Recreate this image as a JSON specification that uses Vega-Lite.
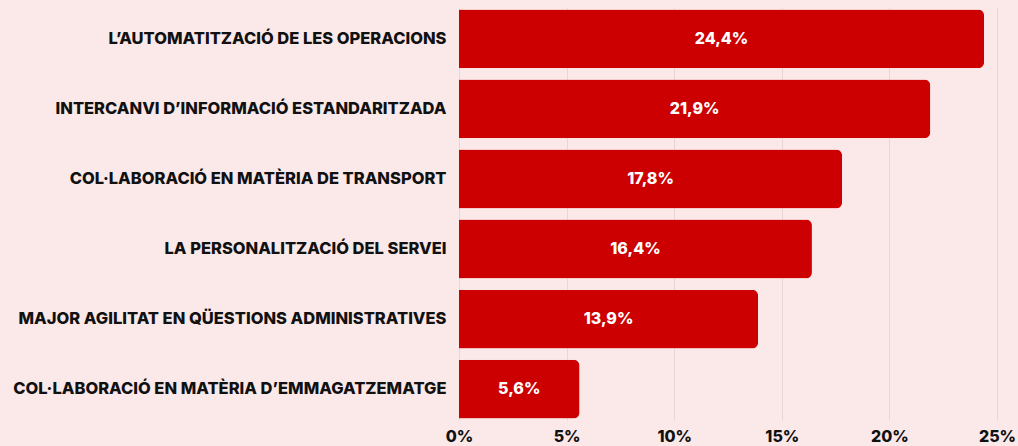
{
  "$schema": "https://vega.github.io/schema/vega-lite/v6.json",
  "autosize": "none",
  "width": 538,
  "height": 412,
  "padding": {"left": 459, "top": 8, "right": 21, "bottom": 26},
  "background": "#fbe9e9",
  "config": {"view": {"stroke": null}, "font": "Inter"},
  "data": {"values": [
    {"cat": "L’AUTOMATITZACIÓ DE LES OPERACIONS", "v": 24.4, "lbl": "24,4%"},
    {"cat": "INTERCANVI D’INFORMACIÓ ESTANDARITZADA", "v": 21.9, "lbl": "21,9%"},
    {"cat": "COL·LABORACIÓ EN MATÈRIA DE TRANSPORT", "v": 17.8, "lbl": "17,8%"},
    {"cat": "LA PERSONALITZACIÓ DEL SERVEI", "v": 16.4, "lbl": "16,4%"},
    {"cat": "MAJOR AGILITAT EN QÜESTIONS ADMINISTRATIVES", "v": 13.9, "lbl": "13,9%"},
    {"cat": "COL·LABORACIÓ EN MATÈRIA D’EMMAGATZEMATGE", "v": 5.6, "lbl": "5,6%"}
  ]},
  "encoding": {
    "y": {"field": "cat", "type": "nominal", "sort": null, "title": null,
      "scale": {"paddingInner": 0.16, "paddingOuter": 0.02},
      "axis": {"domain": false, "ticks": false, "labelPadding": 13, "labelFont": "Inter", "labelFontWeight": 800, "labelFontSize": 16.5, "labelColor": "#111111", "labelLimit": 500}}
  },
  "layer": [
    {"mark": {"type": "bar", "color": "#cc0000", "cornerRadiusEnd": 6},
      "encoding": {"x": {"field": "v", "type": "quantitative", "title": null,
      "scale": {"domain": [0, 25], "nice": false},
      "axis": {"values": [0, 5, 10, 15, 20, 25], "labelExpr": "datum.value + '%'", "domain": false, "ticks": false, "grid": true, "gridColor": "#e8d6d6", "gridWidth": 1, "labelPadding": 8, "labelFont": "Inter", "labelFontWeight": 800, "labelFontSize": 16, "labelColor": "#111111", "labelFlush": false}}}},
    {"transform": [{"calculate": "datum.v / 2", "as": "mid"}],
      "mark": {"type": "text", "color": "white", "fontWeight": 800, "fontSize": 16, "font": "Inter"},
      "encoding": {"x": {"field": "mid", "type": "quantitative"}, "text": {"field": "lbl"}}}
  ]
}
